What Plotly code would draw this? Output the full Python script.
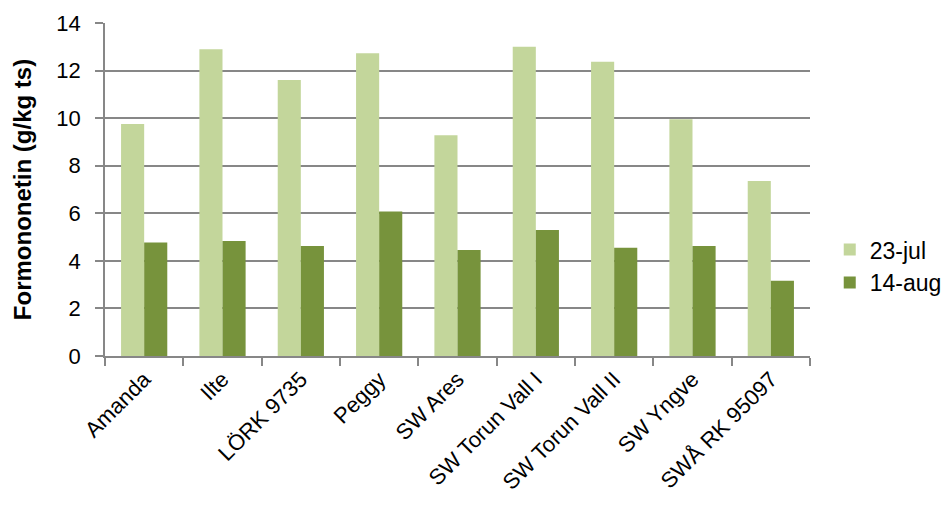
import plotly.graph_objects as go

# Formononetin content per cultivar at two harvest dates
cultivars = ["Amanda", "Ilte", "LÖRK 9735", "Peggy", "SW Ares",
             "SW Torun Vall I", "SW Torun Vall II", "SW Yngve", "SWÅ RK 95097"]
jul23 = [9.75, 12.9, 11.6, 12.73, 9.28, 13.0, 12.37, 9.95, 7.36]
aug14 = [4.77, 4.83, 4.62, 6.08, 4.46, 5.3, 4.55, 4.62, 3.16]
y_ticks = [0, 2, 4, 6, 8, 10, 12, 14]

grid = "#878787"
fig = go.Figure()
fig.add_trace(go.Bar(name="23-jul", x=cultivars, y=jul23, legendgroup="a",
                     marker=dict(color="#c3d69b", line=dict(width=0))))
fig.add_trace(go.Bar(name="14-aug", x=cultivars, y=aug14, legendgroup="b",
                     marker=dict(color="#77933c", line=dict(width=0))))

fig.update_layout(
    width=947, height=512,
    margin=dict(l=105, r=137, t=23, b=156, autoexpand=False),
    paper_bgcolor="white", plot_bgcolor="white",
    barmode="group", bargap=0.41, bargroupgap=0,
    font=dict(family="Liberation Sans, Arial, sans-serif", size=22, color="black"),
    showlegend=True,
    legend=dict(x=1.028, xanchor="left", y=0.27, yanchor="middle",
                font=dict(size=23), tracegroupgap=17, itemwidth=30,
                traceorder="normal", bgcolor="rgba(0,0,0,0)"),
    xaxis=dict(showline=True, linecolor=grid, linewidth=1.5,
               ticks="outside", tickson="boundaries", ticklen=8,
               tickcolor=grid, tickwidth=1.5, tickangle=-45,
               tickfont=dict(size=22), automargin=False),
    yaxis=dict(range=[0, 14], tickvals=y_ticks, showgrid=True,
               gridcolor=grid, gridwidth=1.5, zeroline=False,
               showline=True, linecolor=grid, linewidth=1.5,
               ticks="outside", ticklen=8, tickcolor=grid, tickwidth=1.5,
               ticklabelstandoff=10, automargin=False,
               tickfont=dict(size=22),
               title=dict(text="<b>Formononetin (g/kg ts)</b>",
                          font=dict(size=24), standoff=18)),
)

fig.write_html("out.html")
